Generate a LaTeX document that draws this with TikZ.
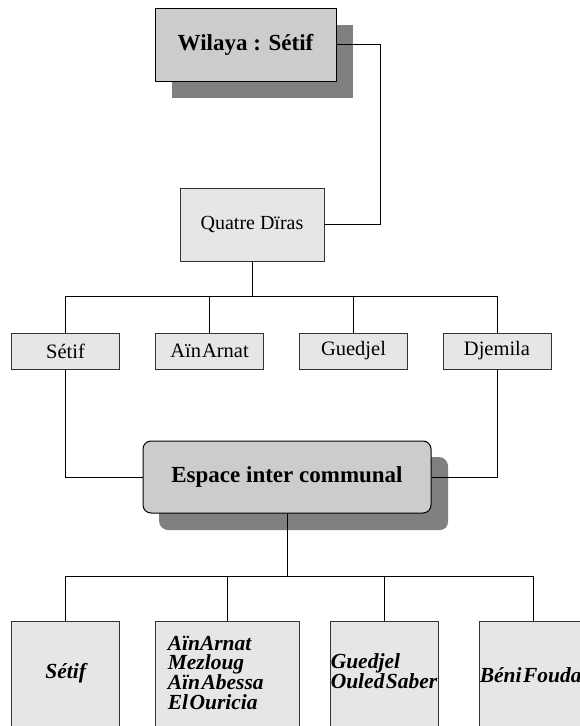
\documentclass[tikz,border=0pt]{standalone}
\usepackage{fontspec}
\setmainfont{Liberation Serif}
\usetikzlibrary{positioning, shadows}
\definecolor{darkbox}{RGB}{204,204,204}
\definecolor{lightbox}{RGB}{230,230,230}
\definecolor{shade}{RGB}{128,128,128}
\definecolor{edge}{RGB}{51,51,51}
\newcommand{\tightwords}[1]{\setlength{\spaceskip}{#1}}
\tikzset{
  toplevel/.style={draw=black, line width=1pt, fill=darkbox, inner sep=0pt,
    general shadow={fill=shade, shadow xshift=17pt, shadow yshift=-17pt},
    font=\fontsize{23}{26}\selectfont\bfseries},
  daira/.style={draw=edge, line width=0.9pt, fill=lightbox, inner sep=0pt,
    minimum width=108pt, minimum height=36pt,
    font=\fontsize{20.5}{22}\selectfont\tightwords{1pt}},
  commune/.style={draw=edge, line width=0.9pt, fill=lightbox, anchor=north,
    inner sep=0pt, minimum width=108pt, minimum height=120pt},
  communelabel/.style={inner sep=0pt, align=left,
    font=\fontsize{21.5}{19.7}\selectfont\bfseries\itshape\tightwords{1.5pt}},
  connector/.style={draw=black, line width=0.8pt},
}
\begin{document}
\begin{tikzpicture}[x=1pt, y=-1pt]
  \useasboundingbox (0,0) rectangle (579,726);
  % Wilaya and daira group
  \node[toplevel, minimum width=181pt, minimum height=73pt] (wilaya) at (245.5,44.5) {Wilaya : Sétif};
  \node[daira, minimum width=144pt, minimum height=73pt, font=\fontsize{20}{22}\selectfont] (quatre) at (252,224.5) {Quatre Dïras};
  \coordinate (turn) at (380,0);
  \draw[connector] (wilaya.east) -| (turn |- quatre.east) -- (quatre.east);
  % The four dairas
  \node[daira] (setif) at (65.5,351) {Sétif};
  \node[daira] (ainarnat) at (209.5,351) {Aïn Arnat};
  \node[daira] (guedjel) at (353.5,351) {Guedjel};
  \node[daira] (djemila) at (497,351) {Djemila};
  \coordinate (busA) at (0,296.7);
  \draw[connector] (quatre.south) -- (quatre.south |- busA);
  \draw[connector] (setif.north) |- (busA -| djemila.north) -- (djemila.north);
  \foreach \n in {ainarnat, guedjel} {
    \draw[connector] (\n.north) -- (\n.north |- busA);
  }
  % Inter-communal space
  \node[toplevel, rounded corners=8pt, general shadow={fill=shade, shadow xshift=16pt, shadow yshift=-16pt},
    minimum width=288pt, minimum height=72pt] (espace) at (287,477) {Espace inter communal};
  \draw[connector] (setif.south) |- (espace.west);
  \draw[connector] (djemila.south) |- (espace.east);
  % Communes
  \node[commune] (csetif) at (65.7,621) {};
  \node[commune, minimum width=144pt] (cainarnat) at (227.5,621) {};
  \node[commune] (cguedjel) at (384,621) {};
  \node[commune, minimum width=109pt] (cbeni) at (533.5,621) {};
  \node[communelabel, yshift=-52pt] (lsetif) at (csetif.north) {Sétif};
  \node[communelabel, anchor=west, xshift=12.5pt, yshift=-51.5pt] (lainarnat) at (cainarnat.north west) {AïnArnat\\Mezloug\\Aïn Abessa\\El Ouricia};
  \node[communelabel, anchor=west, xshift=1pt, yshift=-50pt] (lguedjel) at (cguedjel.north west) {Guedjel\\Ouled Saber};
  \node[communelabel, anchor=west, xshift=1pt, yshift=-54pt] (lbeni) at (cbeni.north west) {Béni Fouda};
  \coordinate (busB) at (0,576);
  \draw[connector] (espace.south) -- (espace.south |- busB);
  \draw[connector] (csetif.north) |- (busB -| cbeni.north) -- (cbeni.north);
  \foreach \n in {cainarnat, cguedjel} {
    \draw[connector] (\n.north) -- (\n.north |- busB);
  }
\end{tikzpicture}
\end{document}
